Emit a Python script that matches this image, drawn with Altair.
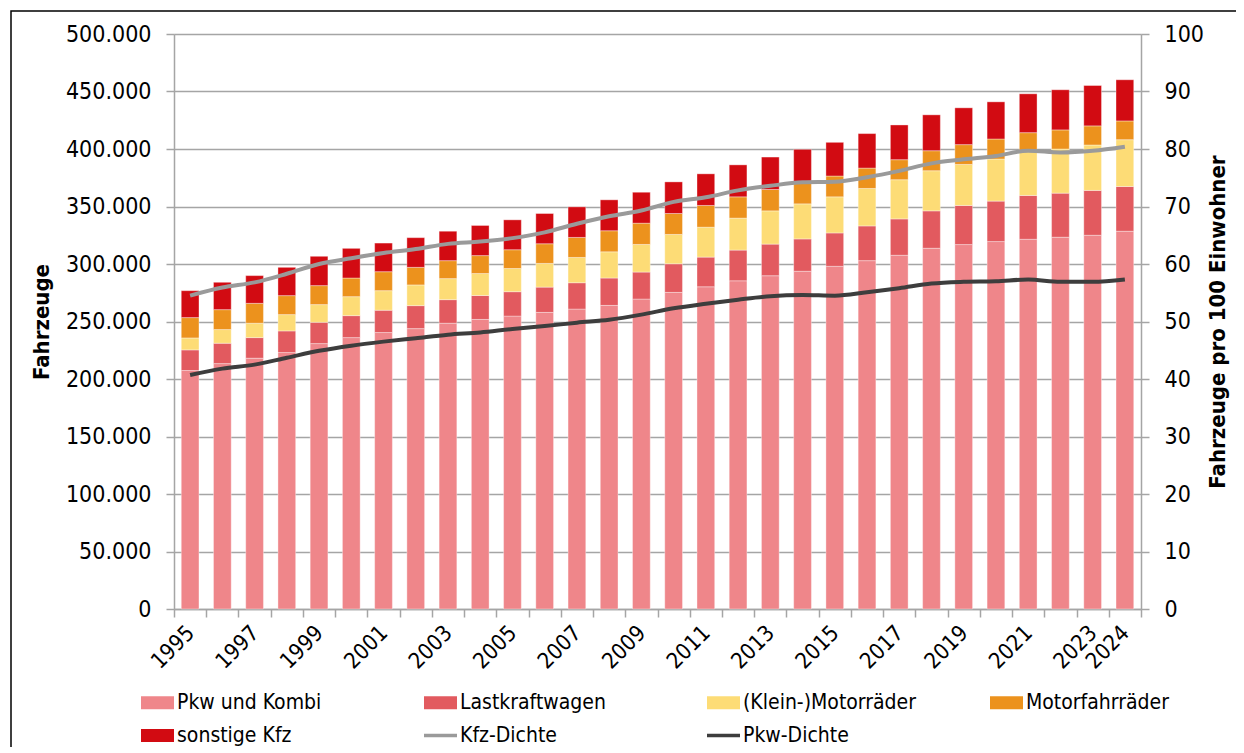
import altair as alt
import pandas as pd

years = list(range(1995, 2025))

pkw_kombi = [207400, 213400, 218100, 223000, 230800, 236000, 240400, 243800, 248500, 251800,
             254700, 257900, 260800, 264000, 269500, 275300, 280200, 285400, 289800, 293700,
             298000, 302900, 307600, 313700, 316900, 319500, 321500, 323300, 325000, 328500]
lkw = [17900, 17700, 17900, 18800, 18500, 19100, 19400, 20000, 20500, 20800,
       21200, 22000, 22900, 23800, 23500, 24900, 25800, 26700, 27500, 28100,
       29000, 30200, 31600, 32500, 34000, 35200, 38100, 38300, 39000, 38900]
motorraeder = [10400, 11900, 12500, 14200, 15400, 16500, 17000, 18000, 18300, 19100,
               20200, 20600, 22000, 22800, 24000, 25500, 26000, 27800, 28900, 30500,
               31400, 32600, 34100, 34900, 35700, 36600, 38900, 38400, 39500, 40700]
motorfahrraeder = [17700, 17300, 17300, 16500, 16500, 16200, 16500, 15300, 15600, 15600,
                   16300, 17100, 17400, 18300, 18500, 18200, 18900, 18500, 18600, 18000,
                   18100, 17700, 17400, 17400, 17200, 17400, 15700, 16600, 16600, 16300]
sonstige = [23400, 23800, 24100, 24600, 25500, 25800, 24900, 25800, 25600, 26200,
            26000, 26300, 26600, 26900, 26900, 27500, 27500, 27800, 28200, 29400,
            29300, 30000, 30200, 31200, 32000, 32300, 33800, 34900, 35100, 35800]

kfz_dichte = [54.5, 55.9, 56.8, 58.3, 60.0, 61.0, 61.9, 62.6, 63.5, 63.9,
              64.5, 65.5, 67.0, 68.3, 69.3, 70.8, 71.6, 72.8, 73.6, 74.2,
              74.3, 75.1, 76.2, 77.5, 78.2, 78.8, 79.7, 79.4, 79.7, 80.4]
pkw_dichte = [40.7, 41.8, 42.5, 43.7, 44.9, 45.8, 46.5, 47.1, 47.7, 48.1,
              48.7, 49.2, 49.8, 50.3, 51.2, 52.3, 53.1, 53.8, 54.4, 54.6,
              54.5, 55.1, 55.8, 56.6, 56.9, 57.0, 57.3, 56.9, 56.9, 57.3]

kategorien = ["Pkw und Kombi", "Lastkraftwagen", "(Klein-)Motorräder", "Motorfahrräder", "sonstige Kfz"]
linien = ["Kfz-Dichte", "Pkw-Dichte"]
farben = ["#EF868A", "#E25A5F", "#FDDC76", "#EC921D", "#D20B12", "#9A9A9A", "#3D3D3D"]

y_ticks = list(range(0, 500001, 50000))
r_ticks = list(range(0, 101, 10))

serien = [pkw_kombi, lkw, motorraeder, motorfahrraeder, sonstige]
bar_rows = []
for k, (name, werte) in enumerate(zip(kategorien, serien)):
    for j, w in zip(years, werte):
        bar_rows.append({"Jahr": j, "Kategorie": name, "Wert": w, "Ordnung": k})
df_bars = pd.DataFrame(bar_rows)

line_rows = []
for name, werte in zip(linien, [kfz_dichte, pkw_dichte]):
    for j, w in zip(years, werte):
        line_rows.append({"Jahr": j, "Serie": name, "Dichte": w})
df_lines = pd.DataFrame(line_rows)

FONT = "DejaVu Sans Condensed"
GRID = "#A5A5A5"

color_scale = alt.Scale(domain=kategorien + linien, range=farben)

legend = alt.Legend(
    orient="none", legendX=-33, legendY=652, columns=4, direction="horizontal", title=None,
    symbolType={"expr": "(datum.value == 'Kfz-Dichte' || datum.value == 'Pkw-Dichte') ? 'M-1,-0.1H1V0.1H-1Z' : 'M-1,-0.4H1V0.4H-1Z'"},
    symbolSize=1089, symbolStrokeWidth=0,
    labelFontSize=21, labelFont=FONT, labelColor="#000000", labelOffset=3,
    columnPadding=74, rowPadding=6, gridAlign="all", labelLimit=400,
)

x_axis = alt.Axis(
    title=None, tickBand="extent", labelAngle=315, labelAlign="right", labelBaseline="middle",
    labelFontSize=22, labelFont=FONT, labelColor="#000000", labelPadding=12,
    labelExpr="(datum.value % 2 == 1 || datum.value == 2024) ? datum.label : ''",
    tickSize=8, tickColor=GRID, tickWidth=1.5, domainColor=GRID, domainWidth=1.5, grid=False,
    labelOverlap=False,
)

bars = alt.Chart(df_bars).mark_bar(
    width=alt.RelativeBandSize(0.55), stroke="#FFFFFF", strokeWidth=0.6, strokeOpacity=0.6
).encode(
    x=alt.X("Jahr:O", axis=x_axis, scale=alt.Scale(paddingInner=0, paddingOuter=0)),
    y=alt.Y("Wert:Q", stack="zero",
            scale=alt.Scale(domain=[0, 500000], nice=False),
            axis=alt.Axis(orient="left", values=y_ticks, title="Fahrzeuge",
                          labelExpr="replace(format(datum.value, ','), ',', '.')",
                          labelFontSize=23, labelFont=FONT, labelColor="#000000", labelPadding=15,
                          titleFontSize=22, titleFont=FONT, titleFontWeight="bold", titleColor="#000000",
                          titleAngle=270, titlePadding=12,
                          grid=True, gridColor=GRID, gridWidth=1.5,
                          tickSize=8, tickColor=GRID, tickWidth=1.5,
                          domainColor=GRID, domainWidth=1.5)),
    color=alt.Color("Kategorie:N", scale=color_scale, legend=legend),
    order=alt.Order("Ordnung:Q", sort="ascending"),
)

lines = alt.Chart(df_lines).mark_line(strokeWidth=4, interpolate="monotone").encode(
    x=alt.X("Jahr:O", bandPosition=0.5),
    y=alt.Y("Dichte:Q",
            scale=alt.Scale(domain=[0, 100], nice=False),
            axis=alt.Axis(orient="right", values=r_ticks, title="Fahrzeuge pro 100 Einwohner",
                          labelFontSize=23, labelFont=FONT, labelColor="#000000", labelPadding=15,
                          titleFontSize=22, titleFont=FONT, titleFontWeight="bold", titleColor="#000000",
                          titleAngle=270, titlePadding=26,
                          grid=False, tickSize=8, tickColor=GRID, tickWidth=1.5,
                          domainColor=GRID, domainWidth=1.5)),
    color=alt.Color("Serie:N", scale=color_scale, legend=legend),
)

frame = alt.Chart(pd.DataFrame({"a": [0]})).mark_rect(
    fill=None, stroke="#000000", strokeWidth=1.5
).encode(
    x=alt.value(-163), x2=alt.value(1100), y=alt.value(-23), y2=alt.value(760)
)

chart = alt.layer(bars, lines, frame).resolve_scale(y="independent").properties(
    width=967, height=575,
    padding={"left": 166, "top": 26, "right": 95, "bottom": 138},
    autosize=alt.AutoSizeParams(type="none"),
).configure_view(stroke=None).configure(font=FONT)

chart.save("out.html", embed_options={"renderer": "svg", "actions": False})
